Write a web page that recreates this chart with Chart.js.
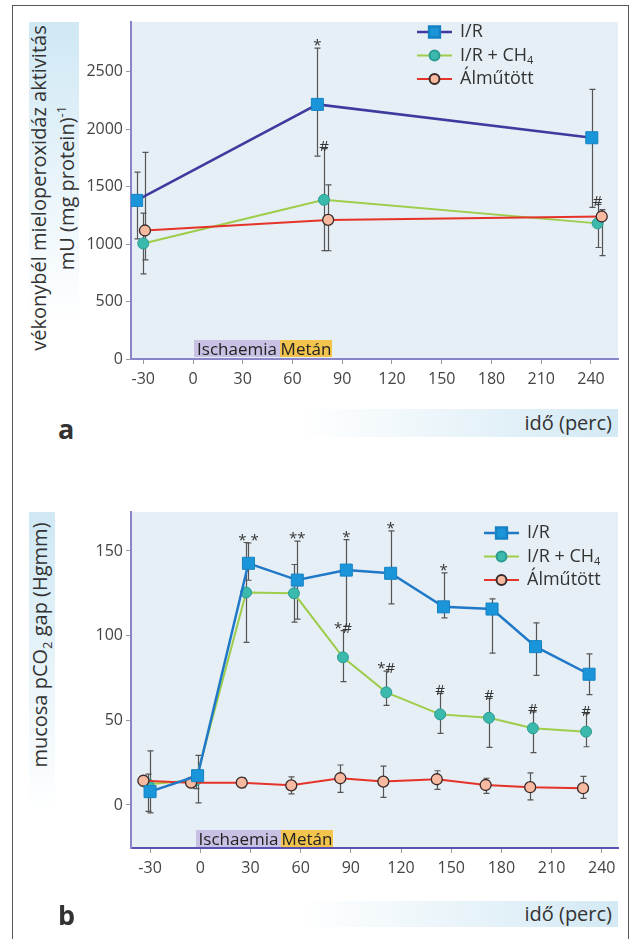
<!DOCTYPE html>
<html lang="hu">
<head>
<meta charset="UTF-8">
<title>MPO és pCO2 gap</title>
<script src="https://cdn.jsdelivr.net/npm/chart.js@4.4.1/dist/chart.umd.min.js"></script>
<style>
    body { margin: 0; background: #fff; font-family: "Open Sans", sans-serif; color: #333; }
    #page { position: relative; width: 629px; height: 939px; overflow: hidden; }
    #frame { position: absolute; left: 12px; top: 5px; width: 615px; height: 960px; border: 1.5px solid #555; }
    .ybg { position: absolute; background: linear-gradient(to bottom, #cfe8f4, #ffffff); }
    .ytitle { position: absolute; transform: rotate(-90deg); text-align: center; white-space: nowrap; font-size: 20px; line-height: 23px; color: #333; }
    .xband { position: absolute; left: 300px; width: 318px; background: linear-gradient(to right, #ffffff, #d3e9f4); text-align: right; font-size: 20px; color: #333; }
    .xband span { padding-right: 6px; }
    .panel { position: absolute; font-weight: bold; font-size: 27px; color: #333; }
    .phase { position: absolute; height: 17px; font-size: 17px; line-height: 17px; color: #222; text-align: center; white-space: nowrap; }
    .isch { background: #c9c1e3; }
    .met { background: #f2c44d; }
    canvas { position: absolute; left: 0; }
</style>
</head>
<body>
<div id="page">
    <div id="frame"></div>

    <!-- a panel -->
    <div class="ybg" style="left:29px;top:22px;width:50px;height:300px"></div>
    <div class="ytitle" style="left:-120px;top:165px;width:340px;height:46px">vékonybél mieloperoxidáz aktivitás<br>mU (mg protein)<sup style="font-size:13px">-1</sup></div>
    <canvas id="chartA" width="629" height="400" style="top:0"></canvas>
    <div class="phase isch" style="left:194px;top:340px;width:86px">Ischaemia</div>
    <div class="phase met" style="left:280px;top:340px;width:52px">Metán</div>
    <div class="xband" style="top:409px;height:28px;line-height:28px"><span>idő (perc)</span></div>
    <div class="panel" style="left:58px;top:410px">a</div>

    <!-- b panel -->
    <div class="ybg" style="left:29px;top:512px;width:26px;height:300px"></div>
    <div class="ytitle" style="left:-110px;top:633px;width:300px;height:24px">mucosa pCO<sub style="font-size:13px">2</sub> gap (Hgmm)</div>
    <canvas id="chartB" width="629" height="420" style="top:480px"></canvas>
    <div class="phase isch" style="left:196px;top:830px;width:85px">Ischaemia</div>
    <div class="phase met" style="left:281px;top:830px;width:52px">Metán</div>
    <div class="xband" style="top:901px;height:26px;line-height:26px"><span>idő (perc)</span></div>
    <div class="panel" style="left:58px;top:896px">b</div>
</div>

<script>
    // ---- data: panel a (MPO activity) ----
    const xTicks = [-30, 0, 30, 60, 90, 120, 150, 180, 210, 240];
    const yTicksA = [0, 500, 1000, 1500, 2000, 2500];
    const yTicksB = [0, 50, 100, 150];

    const irXA = [-34, 75, 240.5];
    const irYA = [1380, 2215, 1925];
    const irUpA = [245, 490, 420];
    const irDnA = [335, 450, 605];
    const irMarkA = ['', '*', ''];

    const ch4XA = [-30, 79, 244];
    const ch4YA = [1005, 1385, 1180];
    const ch4UpA = [265, 445, 165];
    const ch4DnA = [265, 442, 210];
    const ch4MarkA = ['', '#', '#'];

    const shamXA = [-29, 81.5, 246.5];
    const shamYA = [1118, 1210, 1240];
    const shamUpA = [680, 305, 60];
    const shamDnA = [255, 268, 340];

    // ---- data: panel b (mucosal pCO2 gap) ----
    const irXB = [-30, -1.6, 28.8, 58, 87.3, 113.8, 145.4, 174.4, 200.4, 232.4];
    const irYB = [7.9, 17.3, 142.7, 132.8, 138.7, 136.8, 117, 115.7, 93.5, 77.2];
    const irUpB = [24, 12, 12, 23, 18, 25, 20, 6, 14, 12];
    const irDnB = [12.6, 16, 10, 23, 33, 18, 6.5, 26, 17, 12];
    const irMarkB = ['', '', '* *', '**', '*', '*', '*', '', '', ''];

    const ch4XB = [-31, -2.6, 27.4, 56, 85.3, 111.2, 143.4, 172.6, 198.8, 230.6];
    const ch4YB = [12.2, 14.7, 125.5, 125, 87.2, 66.5, 53.5, 51.5, 45.3, 43.3];
    const ch4UpB = [6, 5, 29.5, 17, 15.7, 12.5, 12.4, 11.5, 9.7, 10.7];
    const ch4DnB = [16, 5, 29.5, 17, 14.4, 7.7, 11.2, 17.5, 14.4, 8.9];
    const ch4MarkB = ['', '', '', '', '*#', '*#', '#', '#', '#', '#'];

    const shamXB = [-34, -5.5, 24.8, 54.4, 83.7, 109.4, 141.4, 170.6, 197.2, 228.8];
    const shamYB = [14.3, 13.2, 13.2, 11.6, 15.8, 13.8, 15.2, 11.8, 10.5, 9.9];
    const shamUpB = [3, 3, 3, 5, 7.8, 9.2, 5, 4, 8.5, 7];
    const shamDnB = [3, 3, 3, 5, 8.3, 9.3, 6, 5, 7.5, 6];

    const FONT = '"Open Sans", sans-serif';

    function pts(xs, ys) {
        return xs.map((x, i) => ({ x: x, y: ys[i] }));
    }

    // error bars, significance marks, legend inside the plot and plot background
    const extras = {
        id: 'extras',
        beforeDraw(chart) {
            const a = chart.chartArea, ctx = chart.ctx;
            ctx.save();
            ctx.fillStyle = '#e6eff5';
            ctx.fillRect(a.left, a.top, a.right - a.left, a.bottom - a.top);
            ctx.restore();
        },
        beforeDatasetsDraw(chart) {
            const ctx = chart.ctx, xs = chart.scales.x, ys = chart.scales.y;
            ctx.save();
            ctx.strokeStyle = '#555';
            ctx.lineWidth = 1.2;
            chart.data.datasets.forEach(ds => {
                ds.data.forEach((p, i) => {
                    const px = Math.round(xs.getPixelForValue(p.x)) + 0.5;
                    const top = ys.getPixelForValue(p.y + ds.errUp[i]);
                    const bot = ys.getPixelForValue(p.y - ds.errDn[i]);
                    ctx.beginPath();
                    ctx.moveTo(px, top); ctx.lineTo(px, bot);
                    ctx.moveTo(px - 3, top); ctx.lineTo(px + 3, top);
                    ctx.moveTo(px - 3, bot); ctx.lineTo(px + 3, bot);
                    ctx.stroke();
                });
            });
            ctx.restore();
        },
        afterDatasetsDraw(chart) {
            const ctx = chart.ctx, xs = chart.scales.x, ys = chart.scales.y;
            ctx.save();
            ctx.fillStyle = '#333';
            ctx.font = '15px ' + FONT;
            ctx.textAlign = 'center';
            ctx.textBaseline = 'alphabetic';
            chart.data.datasets.forEach(ds => {
                if (!ds.marks) return;
                ds.data.forEach((p, i) => {
                    if (!ds.marks[i]) return;
                    const px = xs.getPixelForValue(p.x);
                    const top = ys.getPixelForValue(p.y + ds.errUp[i]);
                    ctx.fillText(ds.marks[i], px, top + 2);
                });
            });
            ctx.restore();
        },
        afterDraw(chart, args, opts) {
            const ctx = chart.ctx;
            ctx.save();
            chart.data.datasets.forEach((ds, i) => {
                const y = opts.y + i * opts.gap;
                ctx.strokeStyle = ds.borderColor;
                ctx.lineWidth = ds.borderWidth;
                ctx.beginPath();
                ctx.moveTo(opts.x, y); ctx.lineTo(opts.x + 35, y);
                ctx.stroke();
                ctx.fillStyle = ds.pointBackgroundColor;
                ctx.strokeStyle = ds.pointBorderColor;
                Chart.helpers.drawPoint(ctx, {
                    pointStyle: ds.pointStyle, radius: ds.pointRadius * 0.9,
                    borderWidth: ds.pointBorderWidth, rotation: 0
                }, opts.x + 17.5, y);
                ctx.fillStyle = '#333';
                ctx.textBaseline = 'middle';
                ctx.textAlign = 'left';
                const parts = ds.label.split('₄');
                ctx.font = '18px ' + FONT;
                ctx.fillText(parts[0], opts.x + 43, y);
                if (parts.length > 1) {
                    const w = ctx.measureText(parts[0]).width;
                    ctx.font = '11px ' + FONT;
                    ctx.fillText('4', opts.x + 43 + w, y + 5);
                }
            });
            ctx.restore();
        }
    };

    function makeChart(id, cfg) {
        const irColor = cfg.irLine;
        return new Chart(document.getElementById(id), {
            type: 'line',
            data: {
                datasets: [
                    {
                        label: 'I/R', data: cfg.ir, errUp: cfg.irUp, errDn: cfg.irDn, marks: cfg.irMark,
                        borderColor: irColor, borderWidth: 2.5, order: 1,
                        pointStyle: 'rect', pointRadius: 8.5, pointBackgroundColor: '#1b95d9',
                        pointBorderColor: '#1682c4', pointBorderWidth: 1
                    },
                    {
                        label: 'I/R + CH₄', data: cfg.ch4, errUp: cfg.ch4Up, errDn: cfg.ch4Dn, marks: cfg.ch4Mark,
                        borderColor: '#9dcd4a', borderWidth: 2, order: 3,
                        pointStyle: 'circle', pointRadius: 5.5, pointBackgroundColor: '#3bb9ad',
                        pointBorderColor: '#2b9c92', pointBorderWidth: 1
                    },
                    {
                        label: 'Álműtött', data: cfg.sham, errUp: cfg.shamUp, errDn: cfg.shamDn,
                        borderColor: '#e5332a', borderWidth: 2, order: 2,
                        pointStyle: 'circle', pointRadius: 5.5, pointBackgroundColor: '#f7b9a0',
                        pointBorderColor: '#3a2a2a', pointBorderWidth: 1.3
                    }
                ]
            },
            options: {
                responsive: false,
                animation: false,
                layout: { padding: { left: 0, right: 11, top: cfg.top, bottom: 0 } },
                scales: {
                    x: {
                        type: 'linear', min: cfg.xMin, max: cfg.xMax,
                        afterBuildTicks: s => { s.ticks = xTicks.map(v => ({ value: v })); },
                        afterFit: s => { s.height = cfg.xHeight; },
                        grid: { drawOnChartArea: false, tickLength: 5, tickColor: '#999' },
                        border: { color: cfg.axisX, width: 2 },
                        ticks: { color: '#444', padding: 6, font: { family: FONT, size: 16 }, callback: v => String(v) }
                    },
                    y: {
                        min: cfg.yMin, max: cfg.yMax,
                        afterBuildTicks: s => { s.ticks = cfg.yTicks.map(v => ({ value: v })); },
                        afterFit: s => { s.width = 131; },
                        grid: { drawOnChartArea: false, tickLength: 5, tickColor: '#999' },
                        border: { color: '#8a84c8', width: 2 },
                        ticks: { color: '#444', padding: 3, font: { family: FONT, size: 16 }, callback: v => String(v) }
                    }
                },
                plugins: {
                    legend: { display: false },
                    tooltip: { enabled: false },
                    extras: cfg.legend
                }
            },
            plugins: [extras]
        });
    }

    makeChart('chartA', {
        ir: pts(irXA, irYA), irUp: irUpA, irDn: irDnA, irMark: irMarkA,
        ch4: pts(ch4XA, ch4YA), ch4Up: ch4UpA, ch4Dn: ch4DnA, ch4Mark: ch4MarkA,
        sham: pts(shamXA, shamYA), shamUp: shamUpA, shamDn: shamDnA,
        irLine: '#3d3b9f', axisX: '#8a84c8',
        xMin: -37.4, xMax: 256.3, yMin: 0, yMax: 2932, yTicks: yTicksA,
        top: 22, xHeight: 41,
        legend: { x: 417, y: 32, gap: 23.5 }
    });

    makeChart('chartB', {
        ir: pts(irXB, irYB), irUp: irUpB, irDn: irDnB, irMark: irMarkB,
        ch4: pts(ch4XB, ch4YB), ch4Up: ch4UpB, ch4Dn: ch4DnB, ch4Mark: ch4MarkB,
        sham: pts(shamXB, shamYB), shamUp: shamUpB, shamDn: shamDnB,
        irLine: '#1f78c8', axisX: '#5a52b2',
        xMin: -41.4, xMax: 249.7, yMin: -25.4, yMax: 173, yTicks: yTicksB,
        top: 32, xHeight: 52,
        legend: { x: 484, y: 53, gap: 23.5 }
    });
</script>
</body>
</html>
